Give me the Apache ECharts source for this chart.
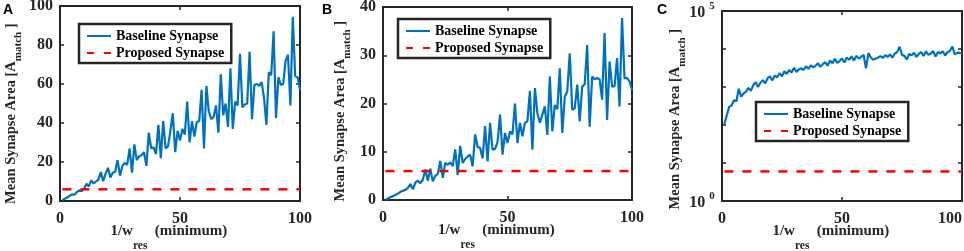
<!DOCTYPE html>
<html>
<head>
<meta charset="utf-8">
<script src="https://cdn.jsdelivr.net/npm/echarts@6/dist/echarts.min.js"></script>
<style>
html, body { margin: 0; padding: 0; background: #fff; }
#main { width: 964px; height: 251px; }
</style>
</head>
<body>
<div id="main"></div>
<script>
// mean synapse area, baseline, one value per 1/w_res step (1..100)
const baselineA = [0.5, 1.2, 1.8, 2.6, 3.4, 3.2, 4.5, 5.5, 5.0, 6.2,
  8.8, 7.5, 10.5, 9.0, 10.0, 11.0, 14.8, 10.2, 14.0, 17.0,
  12.0, 14.5, 15.0, 21.0, 13.0, 18.0, 19.5, 18.5, 27.0, 14.5,
  29.0, 21.0, 23.0, 23.5, 25.0, 18.0, 35.0, 27.0, 27.5, 24.0,
  39.0, 22.0, 41.0, 27.0, 28.0, 36.0, 45.0, 25.0, 36.0, 31.0,
  37.0, 34.0, 51.0, 30.0, 41.0, 33.0, 40.5, 41.0, 57.0, 27.0,
  59.0, 46.0, 42.0, 43.0, 49.0, 35.0, 65.0, 44.0, 50.0, 38.0,
  68.0, 37.0, 51.0, 49.0, 75.5, 48.0, 49.5, 50.0, 76.5, 42.0,
  59.5, 60.0, 59.0, 61.0, 53.0, 39.0, 66.0, 64.5, 87.0, 42.5,
  63.6, 59.5, 60.0, 72.0, 75.0, 49.0, 94.5, 64.0, 63.5, 57.0];

const baselineB = [0.0, 0.3, 0.6, 0.8, 1.1, 1.3, 1.7, 1.9, 2.1, 2.5,
  3.3, 2.2, 3.6, 4.0, 3.5, 4.2, 6.3, 4.0, 6.5, 3.9,
  5.0, 5.4, 8.1, 4.6, 7.7, 7.3, 7.8, 7.0, 10.5, 5.2,
  11.2, 7.7, 8.5, 9.0, 9.4, 7.0, 13.6, 11.0, 10.8, 8.6,
  15.3, 8.0, 16.0, 10.4, 10.6, 12.0, 17.7, 9.4, 13.9, 11.8,
  14.2, 13.6, 20.0, 11.8, 16.0, 13.2, 16.0, 16.3, 22.6, 10.4,
  23.2, 18.0, 16.0, 17.7, 19.4, 13.5, 25.6, 14.2, 19.7, 18.8,
  27.3, 13.9, 21.4, 22.5, 30.4, 18.7, 19.0, 23.9, 16.3, 23.5,
  24.0, 32.1, 15.2, 25.6, 25.0, 25.3, 25.0, 20.8, 34.6, 16.6,
  28.7, 23.5, 23.6, 29.4, 19.4, 37.7, 25.2, 25.3, 24.6, 22.8];

const baselineC = [105, 180, 300, 330, 450, 420, 900, 560, 680, 750,
  950, 800, 1100, 1350, 1000, 1300, 1500, 1250, 1700, 1900,
  1500, 2000, 1800, 2300, 1900, 2600, 2200, 2800, 2400, 3200,
  2500, 2900, 3100, 2800, 3500, 3000, 3700, 3300, 3600, 4200,
  3400, 4000, 4500, 3600, 5000, 4200, 5500, 4300, 4800, 5600,
  4400, 6000, 5200, 6400, 5000, 6600, 5600, 6200, 7000, 3100,
  7800, 6000, 5200, 5600, 5900, 6500, 5800, 6900, 6200, 7200,
  5900, 7600, 8300, 11500, 7000, 6600, 5300, 7400, 6800, 8000,
  6200, 7400, 8300, 6600, 8600, 7000, 7600, 8800, 6300, 8400,
  7600, 8700, 6800, 8200, 9000, 11600, 7200, 7900, 8000, 7600];

// proposed synapse: flat line, same in all panels
const proposed = [[1, 6], [100, 6]];

const wres = baselineA.map((_, i) => i + 1);

const FONT = 'Liberation Serif';
const AXIS = '#262626';
const BLUE = '#0072BD';
const RED = '#FF0000';

const grids = [
  { left: 60, top: 6, width: 240, height: 195 },
  { left: 383, top: 7, width: 249, height: 193 },
  { left: 722, top: 11, width: 240, height: 190 }
];

const xName = '{a|1/w}{s|res}{a|  (minimum)}{h| }';
const yName = '{a|Mean Synapse Area [A}{s|match}{a| ]}{h| }';

function xAxes(gi, alignMax) {
  const base = {
    type: 'value', gridIndex: gi, min: 0, max: 100, interval: 50,
    axisLine: { show: true, onZero: false, lineStyle: { color: AXIS, width: 2 } },
    axisTick: { show: true, inside: true, length: 4, lineStyle: { color: AXIS, width: 1.5 } },
    splitLine: { show: false }
  };
  return [
    Object.assign({}, base, {
      position: 'bottom',
      axisLabel: { color: AXIS, fontFamily: FONT, fontWeight: 'bold', fontSize: 16, margin: 10, alignMaxLabel: alignMax },
      name: xName, nameLocation: 'middle', nameGap: 23, nameMoveOverlap: false,
      nameTextStyle: {
        padding: [0, 22, 0, 0],
        rich: {
          a: { fontFamily: FONT, fontWeight: 'bold', fontSize: 15, lineHeight: 16, color: AXIS, verticalAlign: 'top' },
          s: { fontFamily: FONT, fontWeight: 'bold', fontSize: 11.5, lineHeight: 12, color: AXIS, verticalAlign: 'bottom' },
          h: { fontSize: 1, lineHeight: 28 }
        }
      }
    }),
    Object.assign({}, base, { position: 'top', axisLabel: { show: false } })
  ];
}

function yAxes(gi, opts) {
  const base = Object.assign({
    gridIndex: gi,
    axisLine: { show: true, onZero: false, lineStyle: { color: AXIS, width: 2 } },
    axisTick: { show: true, inside: true, length: 4, lineStyle: { color: AXIS, width: 1.5 } },
    splitLine: { show: false }
  }, opts.scale);
  return [
    Object.assign({}, base, {
      position: 'left',
      axisLabel: Object.assign({ color: AXIS, fontFamily: FONT, fontWeight: 'bold', fontSize: 16, margin: 7 }, opts.label),
      name: yName, nameLocation: 'middle', nameGap: opts.gap, nameRotate: 90, nameMoveOverlap: false,
      nameTextStyle: {
        padding: [0, opts.shift, 0, 0],
        rich: {
          a: { fontFamily: FONT, fontWeight: 'bold', fontSize: 14.5, lineHeight: 15, color: AXIS, verticalAlign: 'top' },
          s: { fontFamily: FONT, fontWeight: 'bold', fontSize: 11, lineHeight: 11, color: AXIS, verticalAlign: 'bottom' },
          h: { fontSize: 1, lineHeight: 20 }
        }
      }
    }),
    Object.assign({}, base, { position: 'right', axisLabel: { show: false } })
  ];
}

function seriesFor(gi, base) {
  return [
    {
      name: 'Baseline Synapse', type: 'line', xAxisIndex: gi * 2, yAxisIndex: gi * 2,
      data: wres.map((x, i) => [x, base[i]]), symbol: 'none',
      lineStyle: { color: BLUE, width: 2.2 }, itemStyle: { color: BLUE }
    },
    {
      name: 'Proposed Synapse', type: 'line', xAxisIndex: gi * 2, yAxisIndex: gi * 2,
      data: proposed, symbol: 'none',
      lineStyle: { color: RED, width: 2.5, type: [9, 9] }, itemStyle: { color: RED }
    }
  ];
}

function legendAt(left, top) {
  return {
    left: left, top: top, orient: 'vertical',
    data: [
      { name: 'Baseline Synapse' },
      { name: 'Proposed Synapse', lineStyle: { type: [7, 10] } }
    ],
    itemWidth: 24, itemHeight: 12, itemGap: 1,
    padding: [4, 7, 2, 7],
    backgroundColor: '#fff', borderColor: AXIS, borderWidth: 2.5,
    selectedMode: false,
    itemStyle: { opacity: 0 },
    textStyle: { fontFamily: FONT, fontWeight: 'bold', fontSize: 14, color: '#000', lineHeight: 16 }
  };
}

const supLabel = {
  formatter: function (v) {
    const e = Math.round(Math.log10(v));
    if (e === 0 || e === 5) return '{b|10}{p|' + e + '}{h| }';
    return '';
  },
  rich: {
    b: { fontFamily: FONT, fontWeight: 'bold', fontSize: 16, lineHeight: 16, color: AXIS, verticalAlign: 'bottom' },
    p: { fontFamily: FONT, fontWeight: 'bold', fontSize: 11, lineHeight: 11, color: AXIS, verticalAlign: 'top', padding: [0, 0, 0, 4] },
    h: { fontSize: 1, lineHeight: 20 }
  }
};

const chart = echarts.init(document.getElementById('main'));
chart.setOption({
  animation: false,
  backgroundColor: '#fff',
  grid: grids.map(g => Object.assign({ outerBoundsMode: 'none' }, g)),
  xAxis: [].concat(xAxes(0, null), xAxes(1, null), xAxes(2, 'right')),
  yAxis: [].concat(
    yAxes(0, { scale: { type: 'value', min: 0, max: 100, interval: 20 }, gap: 36, shift: 20 }),
    yAxes(1, { scale: { type: 'value', min: 0, max: 40, interval: 10 }, gap: 30, shift: 15 }),
    yAxes(2, { scale: { type: 'log', logBase: 10, min: 1, max: 100000 }, gap: 34, shift: 26,
      label: supLabel })
  ),
  legend: [legendAt(79, 24), legendAt(398, 19), legendAt(756, 102)],
  graphic: [
    { type: 'text', left: 3, top: 3, style: { text: 'A', font: 'bold 14px "Liberation Sans"', fill: '#000' } },
    { type: 'text', left: 322, top: 3, style: { text: 'B', font: 'bold 14px "Liberation Sans"', fill: '#000' } },
    { type: 'text', left: 657, top: 3, style: { text: 'C', font: 'bold 14px "Liberation Sans"', fill: '#000' } }
  ],
  series: [].concat(seriesFor(0, baselineA), seriesFor(1, baselineB), seriesFor(2, baselineC))
});
</script>
</body>
</html>
